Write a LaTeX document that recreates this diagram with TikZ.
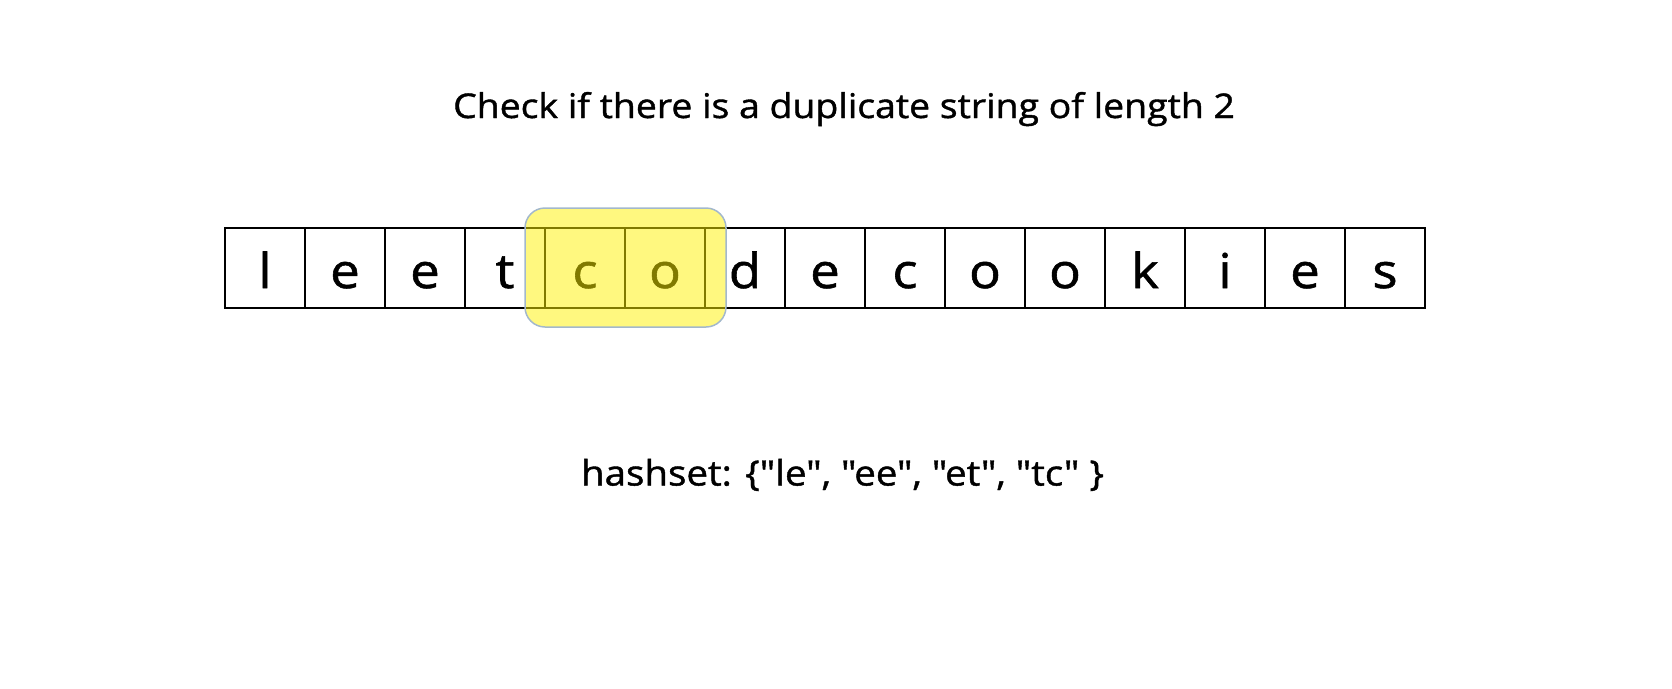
\documentclass[tikz,border=0pt]{standalone}
\usepackage{fontspec}
\newfontfamily\cfont{Open Sans}[FakeStretch=1.1,FakeBold=1.2]
\begin{document}
\begin{tikzpicture}[x=1pt,y=-1pt,
  cellbox/.style={draw=black,line width=1.5pt,minimum width=80pt,minimum height=80pt,inner sep=0pt,outer sep=0pt},
  letter/.style={anchor=base,inner sep=0pt,font=\cfont\fontsize{48}{48}\selectfont},
  hilite/.style={fill=yellow,fill opacity=0.5,draw={rgb,255:red,163;green,184;blue,204},draw opacity=1,line width=1.5pt,rounded corners=20pt}]
\useasboundingbox (0,0) rectangle (1672,688);
\node[anchor=base,inner sep=0pt,font=\cfont\fontsize{34}{34}\selectfont] (title) at (844,118) {Check if there is a duplicate string of length 2};
\foreach \ch [count=\i from 0] in {l,e,e,t,c,o,d,e,c,o,o,k,i,e,s}{
  \node[cellbox] (c\i) at ({265+80*\i},268) {};
  \node[letter] (t\i) at ({265+80*\i},288) {\ch};
}
\node[hilite,minimum width=201pt,minimum height=119pt,inner sep=0pt] (win) at (625.5,267.5) {};
\node[anchor=base,inner sep=0pt,font=\cfont\fontsize{35}{35}\selectfont] (hash) at (842.5,485.5) {hashset: \{"le", "ee", "et", "tc"\ \}};
\end{tikzpicture}
\end{document}
